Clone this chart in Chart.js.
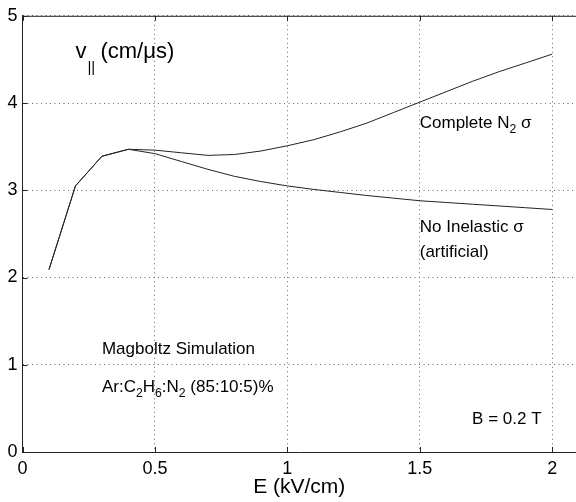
<!DOCTYPE html>
<html>
<head>
<meta charset="utf-8">
<script src="https://cdn.jsdelivr.net/npm/chart.js@4"></script>
<style>
  html, body { margin: 0; padding: 0; background: #fff; overflow: hidden; }
  #wrap { width: 576px; height: 502px; position: relative; }
</style>
</head>
<body>
<div id="wrap"><canvas id="driftChart"></canvas></div>
<script>
// E field (kV/cm)
const fieldValues = [0.1, 0.2, 0.3, 0.4, 0.5, 0.6, 0.7, 0.8, 0.9, 1.0,
    1.1, 1.2, 1.3, 1.4, 1.5, 1.6, 1.7, 1.8, 1.9, 2.0];
// drift velocity (cm/us), complete N2 cross sections
const completeN2 = [2.09, 3.05, 3.39, 3.47, 3.46, 3.43, 3.40, 3.41, 3.45, 3.51,
    3.58, 3.67, 3.77, 3.89, 4.01, 4.13, 4.25, 4.36, 4.46, 4.56];
// drift velocity (cm/us), no inelastic cross sections
const noInelastic = [2.09, 3.05, 3.39, 3.47, 3.42, 3.33, 3.24, 3.16, 3.10, 3.05,
    3.01, 2.975, 2.94, 2.91, 2.88, 2.86, 2.84, 2.82, 2.80, 2.78];
const xTickValues = [0, 0.5, 1, 1.5, 2];
const yTickValues = [0, 1, 2, 3, 4, 5];

const FONT = "'Liberation Sans', Arial, Helvetica, sans-serif";

function toPoints(ys) {
    return fieldValues.map((x, i) => ({ x: x, y: ys[i] }));
}

// draws text pieces in a row, some of them as subscripts
function drawRuns(ctx, runs, x, y, size) {
    let cx = x;
    runs.forEach(run => {
        const sub = run.sub;
        const s = sub ? size * 0.72 : size;
        ctx.font = s + "px " + FONT;
        ctx.fillText(run.t, cx, sub ? y + size * 0.3 : y);
        cx += ctx.measureText(run.t).width;
    });
}

const decorations = {
    id: "decorations",
    afterDraw(chart) {
        const ctx = chart.ctx;
        const area = chart.chartArea;
        const xs = chart.scales.x;
        const ys = chart.scales.y;
        ctx.save();
        ctx.strokeStyle = "#222";
        ctx.lineWidth = 1;
        // top box line
        ctx.beginPath();
        ctx.moveTo(area.left, area.top + 0.5);
        ctx.lineTo(area.right, area.top + 0.5);
        ctx.stroke();
        // inner tick marks
        ctx.beginPath();
        xTickValues.forEach(v => {
            const px = Math.round(xs.getPixelForValue(v)) + 0.5;
            ctx.moveTo(px, area.bottom);
            ctx.lineTo(px, area.bottom - 5);
            ctx.moveTo(px, area.top);
            ctx.lineTo(px, area.top + 5);
        });
        yTickValues.forEach(v => {
            const py = Math.round(ys.getPixelForValue(v)) + 0.5;
            ctx.moveTo(area.left, py);
            ctx.lineTo(area.left + 5, py);
        });
        ctx.stroke();

        ctx.fillStyle = "#000";
        ctx.textBaseline = "alphabetic";
        ctx.textAlign = "left";
        const X = v => xs.getPixelForValue(v);
        const Y = v => ys.getPixelForValue(v);

        // y axis label
        ctx.font = "22px " + FONT;
        ctx.fillText("v", X(0.2), Y(4.52));
        const vw = ctx.measureText("v").width;
        ctx.font = "15px " + FONT;
        ctx.fillText("||", X(0.2) + vw + 1, Y(4.52) + 14);
        ctx.font = "22px " + FONT;
        ctx.fillText("(cm/\u03bcs)", X(0.2) + vw + 14, Y(4.52));

        drawRuns(ctx, [{ t: "Complete N" }, { t: "2", sub: true }, { t: " \u03c3" }], X(1.5), Y(3.71), 17);
        drawRuns(ctx, [{ t: "No Inelastic \u03c3" }], X(1.5), Y(2.525), 17);
        drawRuns(ctx, [{ t: "(artificial)" }], X(1.5), Y(2.24), 17);
        drawRuns(ctx, [{ t: "Magboltz Simulation" }], X(0.3), Y(1.12), 17);
        drawRuns(ctx, [
            { t: "Ar:C" }, { t: "2", sub: true }, { t: "H" }, { t: "6", sub: true },
            { t: ":N" }, { t: "2", sub: true }, { t: " (85:10:5)%" }
        ], X(0.3), Y(0.69), 17);
        ctx.textAlign = "right";
        ctx.font = "17px " + FONT;
        ctx.fillText("B = 0.2 T", X(1.96), Y(0.325));
        ctx.restore();
    }
};

new Chart("driftChart", {
    type: "line",
    data: {
        datasets: [{
            label: "Complete N2",
            data: toPoints(completeN2),
            borderColor: "#222",
            borderWidth: 1,
            pointRadius: 0,
            tension: 0,
            fill: false
        },
        {
            label: "No Inelastic",
            data: toPoints(noInelastic),
            borderColor: "#222",
            borderWidth: 1,
            pointRadius: 0,
            tension: 0,
            fill: false
        }]
    },
    options: {
        responsive: true,
        maintainAspectRatio: false,
        animation: false,
        layout: { padding: { top: 14, right: 0, left: 0, bottom: 0 } },
        plugins: {
            legend: { display: false },
            tooltip: { enabled: false }
        },
        scales: {
            x: {
                type: "linear",
                min: 0,
                max: 2.09,
                afterFit: scale => { scale.height = 50; },
                afterBuildTicks: scale => {
                    scale.ticks = xTickValues.map(v => ({ value: v }));
                },
                ticks: {
                    color: "#000",
                    font: { family: FONT, size: 18 },
                    padding: 6,
                    maxRotation: 0,
                    callback: v => String(v)
                },
                grid: {
                    color: "#666",
                    lineWidth: 1,
                    drawTicks: false
                },
                border: { display: true, color: "#222", width: 1, dash: [1, 3.5] },
                title: {
                    display: true,
                    text: "E (kV/cm)",
                    color: "#000",
                    font: { family: FONT, size: 21 },
                    padding: { top: 0, bottom: 2 }
                }
            },
            y: {
                type: "linear",
                min: 0,
                max: 5,
                afterFit: scale => { scale.width = 22.5; },
                afterBuildTicks: scale => {
                    scale.ticks = yTickValues.map(v => ({ value: v }));
                },
                ticks: {
                    color: "#000",
                    font: { family: FONT, size: 18 },
                    padding: 5
                },
                grid: {
                    color: "#666",
                    lineWidth: 1,
                    drawTicks: false
                },
                border: { display: true, color: "#222", width: 1, dash: [1, 3.5] }
            }
        }
    },
    plugins: [decorations]
});
</script>
</body>
</html>
